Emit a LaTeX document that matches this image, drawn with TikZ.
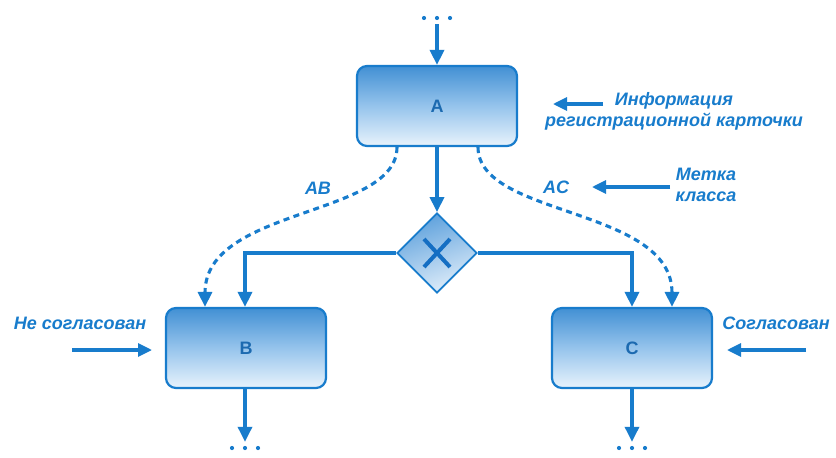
\documentclass[tikz,border=0pt]{standalone}
\usepackage{fontspec}
\setmainfont{Liberation Sans}
\usetikzlibrary{arrows.meta,shapes.geometric}
\definecolor{flow}{RGB}{24,124,204}
\definecolor{boxtop}{RGB}{66,144,212}
\definecolor{boxmid}{RGB}{150,196,236}
\definecolor{boxbot}{RGB}{232,243,252}
\definecolor{gatetop}{RGB}{92,160,220}
\definecolor{gatebot}{RGB}{225,238,250}
\definecolor{letter}{RGB}{28,106,176}
\definecolor{xmarkc}{RGB}{20,110,195}
\begin{document}
\begin{tikzpicture}[x=1pt,y=-1pt,
  tip/.style={-{Triangle[length=15pt,width=14pt]}},
  flowline/.style={draw=flow,line width=3.3pt,tip},
  sideline/.style={draw=flow,line width=3.2pt,-{Triangle[length=14pt,width=13pt]}},
  dashline/.style={draw=flow,line width=3.1pt,dash pattern=on 6pt off 4.5pt,tip},
  task/.style={rectangle,rounded corners=10pt,draw=flow,line width=2.2pt,
    minimum width=160pt,minimum height=80pt,
    top color=boxtop,bottom color=boxbot,middle color=boxmid,
    font=\fontsize{18}{18}\selectfont\bfseries,text=letter},
  gate/.style={diamond,draw=flow,line width=1.8pt,inner sep=0pt,
    minimum width=80pt,minimum height=80pt,
    top color=gatetop,bottom color=gatebot,shading angle=20},
  xmark/.style={draw=xmarkc,line width=4pt},
  lbl/.style={font=\fontsize{18}{21}\selectfont\bfseries\itshape,text=flow,align=center,inner sep=0pt},
  dots/.style={rectangle,inner sep=0pt,minimum width=36pt,minimum height=6pt,
    path picture={\foreach \d in {-13,0,13}
      \fill[flow] ([xshift=\d pt]path picture bounding box.center) circle (2.1pt);}}
]
\useasboundingbox (0,0) rectangle (836,458);
\fill[white] (0,0) rectangle (836,458);

% activities
\node[task] (A) at (437,106) {A};
\node[task] (B) at (246,348) {B};
\node[task] (C) at (632,348) {C};

% exclusive gateway
\node[gate] (X) at (437,253) {};
\draw[xmark] ([shift={(-13pt,-14pt)}]X.center) -- ([shift={(13pt,14pt)}]X.center);
\draw[xmark] ([shift={(-13pt,14pt)}]X.center) -- ([shift={(13pt,-14pt)}]X.center);

% continuation marks
\node[dots] (topdots) at (437,18) {};
\node[dots] (bdots) at (245,448) {};
\node[dots] (cdots) at (632,448) {};

% sequence flow
\draw[flowline] ([yshift=-3pt]topdots.south) -- (A.north);
\draw[flowline] (A.south) -- (X.north);
\draw[flowline] (X.west) -| ([xshift=-1pt]B.north);
\draw[flowline] (X.east) -| (C.north);
\draw[flowline] ([xshift=-1pt]B.south) -- ([yshift=3pt]bdots.north);
\draw[flowline] (C.south) -- ([yshift=3pt]cdots.north);

% dashed routes
\draw[dashline] ([xshift=-40pt]A.south) .. controls +(0,70) and +(0,-100) .. ([xshift=-41pt]B.north);
\draw[dashline] ([xshift=41pt]A.south) .. controls +(0,70) and +(0,-100) .. ([xshift=40pt]C.north);
\node[lbl] (ab) at (318,188) {AB};
\node[lbl] (ac) at (556,187) {AC};

% annotations
\node[lbl] (info) at (674,111) {Информация\\регистрационной карточки};
\coordinate (infoS) at (603,104);
\coordinate (infoE) at (553,104);
\draw[sideline] (infoS) -- (infoE);

\node[lbl] (mark) at (706,185) {Метка\\класса};
\coordinate (markS) at (670,187);
\coordinate (markE) at (592,187);
\draw[sideline] (markS) -- (markE);

\node[lbl] (nok) at (80,323) {Не согласован};
\coordinate (nokS) at (72,350);
\coordinate (nokE) at (152,350);
\draw[sideline] (nokS) -- (nokE);

\node[lbl] (ok) at (776,323) {Согласован};
\coordinate (okS) at (806,350);
\coordinate (okE) at (727,350);
\draw[sideline] (okS) -- (okE);
\end{tikzpicture}
\end{document}
